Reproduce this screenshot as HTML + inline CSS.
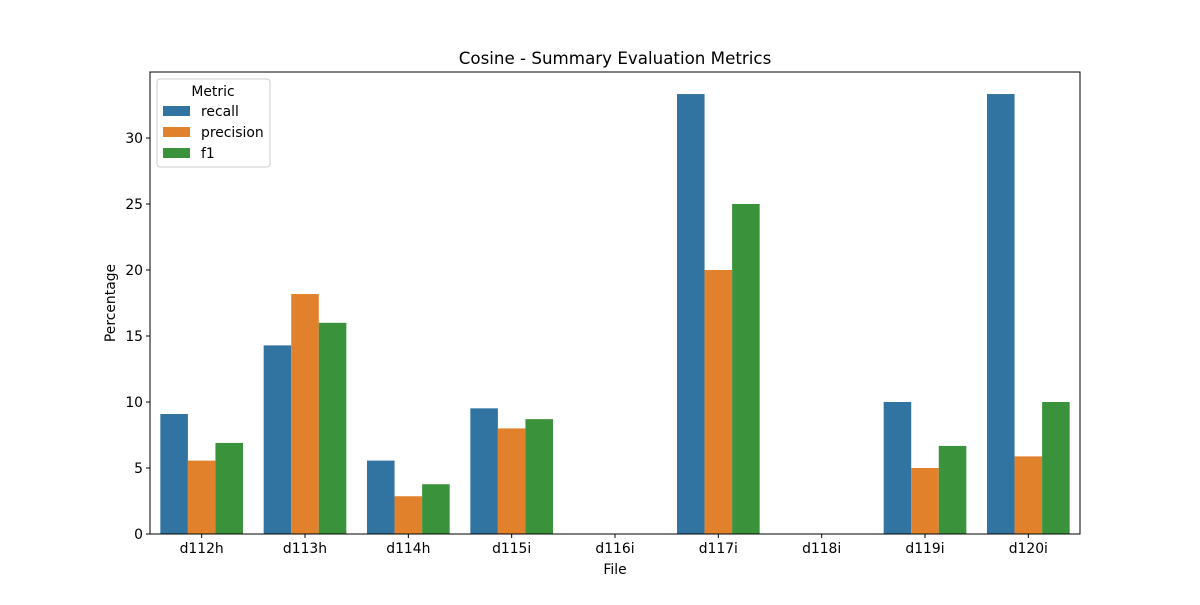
<!DOCTYPE html>
<html><head><meta charset="utf-8"><style>
body{margin:0;background:#fff;}
svg{font-family:"DejaVu Sans","Liberation Sans",sans-serif;}
</style></head><body>
<svg id="chart" width="1200" height="600"></svg>
<script>
const categories=["d112h","d113h","d114h","d115i","d116i","d117i","d118i","d119i","d120i"];
const seriesNames=["recall","precision","f1"];
const recall=[9.09,14.29,5.56,9.52,0,33.33,0,10,33.33];
const precision=[5.56,18.18,2.86,8.0,0,20,0,5,5.88];
const f1=[6.9,16.0,3.77,8.7,0,25,0,6.67,10];
const yTicks=[0,5,10,15,20,25,30];
const colors=["#3274a1","#e1812c","#3a923a"];
const series=[recall,precision,f1];
const NS="http://www.w3.org/2000/svg";
const svg=document.getElementById("chart");
const L=150,R=1080,T=72,B=534,yMax=35;
const y=v=>B-(v/yMax)*(B-T);
const band=(R-L)/categories.length;
const x=i=>L+band*i;
function mk(tag,attrs,parent){const e=document.createElementNS(NS,tag);for(const k in attrs)e.setAttribute(k,attrs[k]);(parent||svg).appendChild(e);return e;}
function txt(s,attrs){const e=mk("text",attrs);e.textContent=s;return e;}
const bw=band*0.8/3;
series.forEach((arr,s)=>{arr.forEach((v,i)=>{
 const r=mk("rect",{x:x(i)+band*0.1+bw*s,y:y(v),width:bw,height:B-y(v),fill:colors[s]});
 
 
});});
const f=mk("rect",{x:L,y:T,width:R-L,height:B-T,fill:"none",stroke:"#000","stroke-width":1});


yTicks.forEach(t=>{
 mk("line",{x1:L-4,x2:L,y1:y(t),y2:y(t),stroke:"#000"});
 const e=txt(t,{x:L-7,y:y(t)+5,"text-anchor":"end","font-size":13.9});
 
 
});
categories.forEach((c,i)=>{
 const cx=x(i)+band/2;
 mk("line",{x1:cx,x2:cx,y1:B,y2:B+4,stroke:"#000"});
 const e=txt(c,{x:cx,y:B+19,"text-anchor":"middle","font-size":13.9});
 
 
});
let e=txt("File",{x:(L+R)/2,y:574,"text-anchor":"middle","font-size":13.9});


e=txt("Percentage",{x:115,y:(T+B)/2,"text-anchor":"middle","font-size":13.9,transform:"rotate(-90 115 "+((T+B)/2)+")"});


e=txt("Cosine - Summary Evaluation Metrics",{x:(L+R)/2,y:64,"text-anchor":"middle","font-size":16.7});


const lg=mk("rect",{x:157,y:79,width:113,height:88,rx:3,fill:"#fff","fill-opacity":0.8,stroke:"#ccc"});


e=txt("Metric",{x:213,y:96,"text-anchor":"middle","font-size":13.9});


seriesNames.forEach((n,s)=>{
 const yy=111+s*21;
 const r=mk("rect",{x:163,y:yy-5,width:27,height:10,fill:colors[s]});
 
 
 const t=txt(n,{x:201,y:yy+5,"font-size":13.9});
 
 
});
</script>
</body></html>
